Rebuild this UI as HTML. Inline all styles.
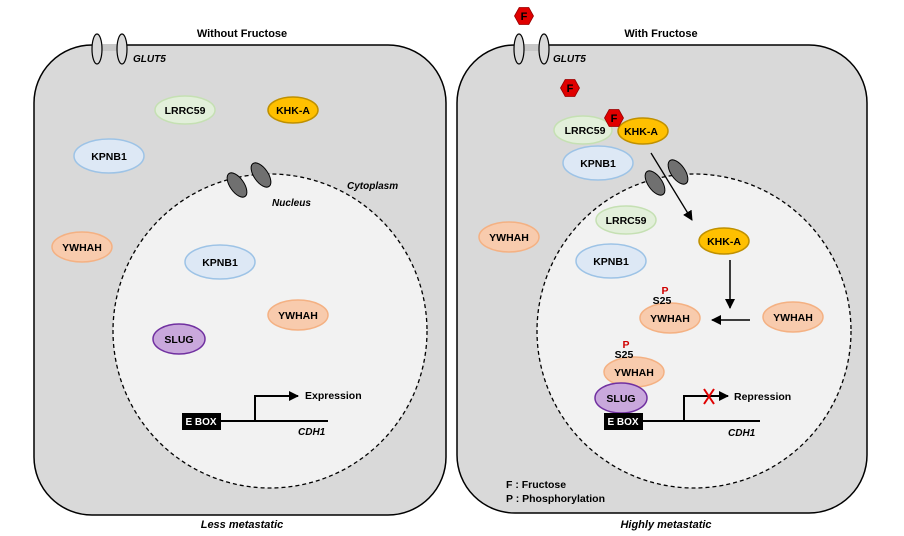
<!DOCTYPE html>
<html><head><meta charset="utf-8"><style>
html,body{margin:0;padding:0;background:#fff;}
svg{display:block;font-family:"Liberation Sans",Arial,sans-serif;font-weight:bold;}
</style></head><body>
<svg width="904" height="536" viewBox="0 0 904 536" xmlns="http://www.w3.org/2000/svg">
<defs>
<marker id="ah" markerWidth="10" markerHeight="10" refX="9" refY="5" orient="auto" markerUnits="userSpaceOnUse">
<path d="M0,0 L10,5 L0,10 z" fill="#000"/></marker>
<g id="hex"><polygon points="-9.5,0 -4.8,-8.5 4.8,-8.5 9.5,0 4.8,8.5 -4.8,8.5" fill="#e00000" stroke="#900" stroke-width="0.8"/><text x="0" y="4" font-size="11" text-anchor="middle" fill="#000">F</text></g>
</defs>

<text x="242" y="37" font-size="11" text-anchor="middle">Without Fructose</text>
<text x="661" y="37" font-size="11" text-anchor="middle">With Fructose</text>
<text x="242" y="528" font-size="11" text-anchor="middle" font-style="italic">Less metastatic</text>
<text x="666" y="528" font-size="11" text-anchor="middle" font-style="italic">Highly metastatic</text>

<!-- LEFT CELL -->
<rect x="34" y="45" width="412" height="470" rx="58" fill="#d9d9d9" stroke="#000" stroke-width="1.5"/>
<rect x="97" y="44" width="25" height="7" fill="#c8c8c8"/>
<ellipse cx="97" cy="49" rx="5" ry="15" fill="#d9d9d9" stroke="#000" stroke-width="1.2"/>
<ellipse cx="122" cy="49" rx="5" ry="15" fill="#d9d9d9" stroke="#000" stroke-width="1.2"/>
<text x="133" y="62" font-size="10" font-style="italic">GLUT5</text>
<circle cx="270" cy="331" r="157" fill="#f2f2f2" stroke="#000" stroke-width="1.3" stroke-dasharray="4,3"/>
<ellipse cx="237" cy="185" rx="7" ry="14" transform="rotate(-35 237 185)" fill="#707070" stroke="#000"/>
<ellipse cx="261" cy="175" rx="7" ry="14" transform="rotate(-35 261 175)" fill="#707070" stroke="#000"/>
<text x="347" y="189" font-size="10" font-style="italic">Cytoplasm</text>
<text x="272" y="206" font-size="10" font-style="italic">Nucleus</text>

<g font-size="10.5" text-anchor="middle">
<ellipse cx="185" cy="110" rx="30" ry="14" fill="#e2efda" stroke="#c5e0b3" stroke-width="1.5"/><text x="185" y="114">LRRC59</text>
<ellipse cx="293" cy="110" rx="25" ry="13" fill="#ffc000" stroke="#bf9000" stroke-width="1.5"/><text x="293" y="114">KHK-A</text>
<ellipse cx="109" cy="156" rx="35" ry="17" fill="#dde8f5" stroke="#9dc3e6" stroke-width="1.5"/><text x="109" y="160">KPNB1</text>
<ellipse cx="82" cy="247" rx="30" ry="15" fill="#f8cbad" stroke="#f4b183" stroke-width="1.5"/><text x="82" y="251">YWHAH</text>
<ellipse cx="220" cy="262" rx="35" ry="17" fill="#dde8f5" stroke="#9dc3e6" stroke-width="1.5"/><text x="220" y="266">KPNB1</text>
<ellipse cx="298" cy="315" rx="30" ry="15" fill="#f8cbad" stroke="#f4b183" stroke-width="1.5"/><text x="298" y="319">YWHAH</text>
<ellipse cx="179" cy="339" rx="26" ry="15" fill="#c9a8dc" stroke="#7030a0" stroke-width="1.5"/><text x="179" y="343">SLUG</text>
</g>
<line x1="221" y1="421" x2="328" y2="421" stroke="#000" stroke-width="2"/>
<polyline points="255,421 255,396 298,396" fill="none" stroke="#000" stroke-width="2" marker-end="url(#ah)"/>
<rect x="182" y="413" width="39" height="17" fill="#000"/>
<text x="201" y="425" font-size="10" fill="#fff" text-anchor="middle">E BOX</text>
<text x="305" y="399" font-size="10.5">Expression</text>
<text x="298" y="435" font-size="10" font-style="italic">CDH1</text>

<!-- RIGHT CELL -->
<rect x="457" y="45" width="410" height="468" rx="58" fill="#d9d9d9" stroke="#000" stroke-width="1.5"/>
<rect x="519" y="44" width="25" height="7" fill="#c8c8c8"/>
<ellipse cx="519" cy="49" rx="5" ry="15" fill="#d9d9d9" stroke="#000" stroke-width="1.2"/>
<ellipse cx="544" cy="49" rx="5" ry="15" fill="#d9d9d9" stroke="#000" stroke-width="1.2"/>
<text x="553" y="62" font-size="10" font-style="italic">GLUT5</text>
<circle cx="694" cy="331" r="157" fill="#f2f2f2" stroke="#000" stroke-width="1.3" stroke-dasharray="4,3"/>
<ellipse cx="655" cy="183" rx="7" ry="14" transform="rotate(-35 655 183)" fill="#707070" stroke="#000"/>
<ellipse cx="678" cy="172" rx="7" ry="14" transform="rotate(-35 678 172)" fill="#707070" stroke="#000"/>
<line x1="651" y1="153" x2="692" y2="220" stroke="#000" stroke-width="1.3" marker-end="url(#ah)"/>

<use href="#hex" x="524" y="16"/>
<use href="#hex" x="570" y="88"/>

<g font-size="10.5" text-anchor="middle">
<ellipse cx="583" cy="130" rx="29" ry="14" fill="#e2efda" stroke="#c5e0b3" stroke-width="1.5"/><text x="585" y="134">LRRC59</text>
<ellipse cx="643" cy="131" rx="25" ry="13" fill="#ffc000" stroke="#bf9000" stroke-width="1.5"/><text x="641" y="135">KHK-A</text>
<ellipse cx="598" cy="163" rx="35" ry="17" fill="#dde8f5" stroke="#9dc3e6" stroke-width="1.5"/><text x="598" y="167">KPNB1</text>
<ellipse cx="509" cy="237" rx="30" ry="15" fill="#f8cbad" stroke="#f4b183" stroke-width="1.5"/><text x="509" y="241">YWHAH</text>
<ellipse cx="626" cy="220" rx="30" ry="14" fill="#e2efda" stroke="#c5e0b3" stroke-width="1.5"/><text x="626" y="224">LRRC59</text>
<ellipse cx="611" cy="261" rx="35" ry="17" fill="#dde8f5" stroke="#9dc3e6" stroke-width="1.5"/><text x="611" y="265">KPNB1</text>
<ellipse cx="724" cy="241" rx="25" ry="13" fill="#ffc000" stroke="#bf9000" stroke-width="1.5"/><text x="724" y="245">KHK-A</text>
<ellipse cx="793" cy="317" rx="30" ry="15" fill="#f8cbad" stroke="#f4b183" stroke-width="1.5"/><text x="793" y="321">YWHAH</text>
<ellipse cx="670" cy="318" rx="30" ry="15" fill="#f8cbad" stroke="#f4b183" stroke-width="1.5"/><text x="670" y="322">YWHAH</text>
<ellipse cx="634" cy="372" rx="30" ry="15" fill="#f8cbad" stroke="#f4b183" stroke-width="1.5"/><text x="634" y="376">YWHAH</text>
<ellipse cx="621" cy="398" rx="26" ry="15" fill="#c9a8dc" stroke="#7030a0" stroke-width="1.5"/><text x="621" y="402">SLUG</text>
<text x="662" y="304">S25</text><text x="665" y="294" fill="#d00000">P</text>
<text x="624" y="358">S25</text><text x="626" y="348" fill="#d00000">P</text>
</g>
<use href="#hex" x="614" y="118"/>
<line x1="730" y1="260" x2="730" y2="308" stroke="#000" stroke-width="1.5" marker-end="url(#ah)"/>
<line x1="750" y1="320" x2="712" y2="320" stroke="#000" stroke-width="1.5" marker-end="url(#ah)"/>

<line x1="643" y1="421" x2="760" y2="421" stroke="#000" stroke-width="2"/>
<polyline points="684,421 684,396 728,396" fill="none" stroke="#000" stroke-width="2" marker-end="url(#ah)"/>
<path d="M704,389 L714,404 M714,389 L704,404" stroke="#e00000" stroke-width="2"/>
<rect x="604" y="413" width="39" height="17" fill="#000"/>
<text x="623" y="425" font-size="10" fill="#fff" text-anchor="middle">E BOX</text>
<text x="734" y="400" font-size="10.5">Repression</text>
<text x="728" y="436" font-size="10" font-style="italic">CDH1</text>
<text x="506" y="488" font-size="10.5">F : Fructose</text>
<text x="506" y="502" font-size="10.5">P : Phosphorylation</text>
</svg>
</body></html>
